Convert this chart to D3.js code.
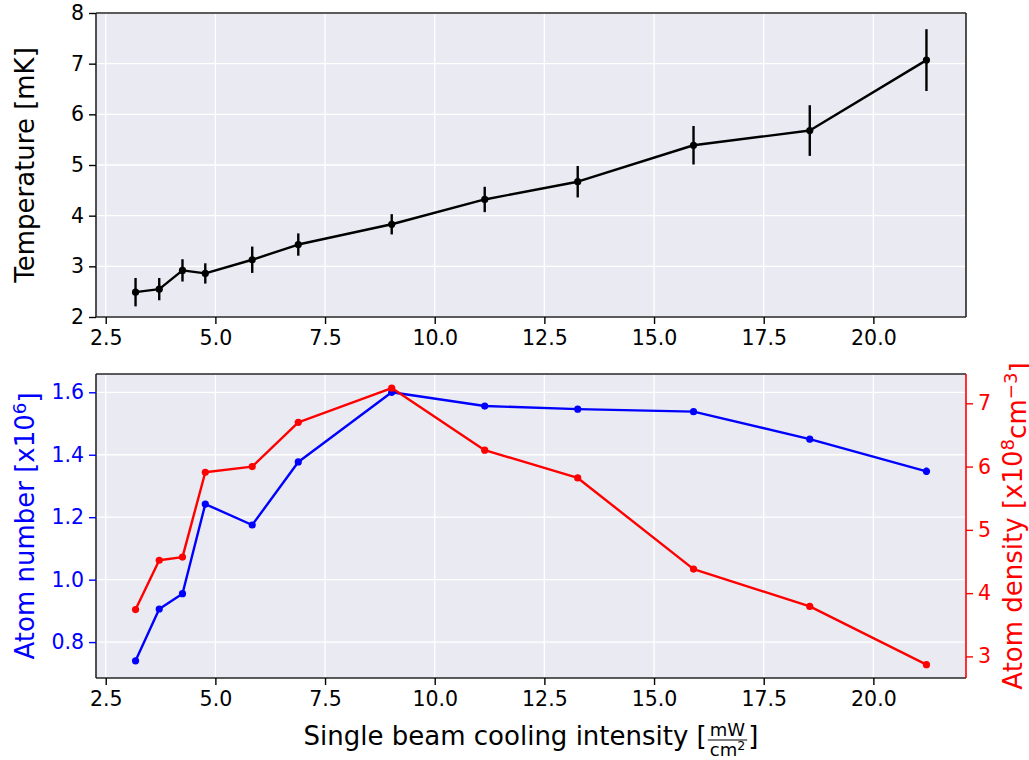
<!DOCTYPE html>
<html>
<head>
<meta charset="utf-8">
<script src="https://cdn.jsdelivr.net/npm/d3@7"></script>
<style>
  html, body { margin: 0; padding: 0; background: #ffffff; }
  svg { display: block; font-family: "DejaVu Sans", sans-serif; }
</style>
</head>
<body>
<svg id="chart" width="1029" height="760"></svg>
<script>
// ---------------- data ----------------
const intensity = [3.18, 3.72, 4.25, 4.77, 5.84, 6.89, 9.02, 11.14, 13.26, 15.90, 18.55, 21.21];
const temperature = [2.49, 2.55, 2.92, 2.86, 3.13, 3.43, 3.83, 4.32, 4.67, 5.39, 5.68, 7.07];
const temperatureErr = [0.28, 0.22, 0.22, 0.20, 0.26, 0.22, 0.20, 0.25, 0.31, 0.38, 0.50, 0.61];
const atomNumber = [0.740, 0.906, 0.955, 1.242, 1.175, 1.377, 1.600, 1.556, 1.546, 1.538, 1.450, 1.347];
const atomNumberErr = [0.008, 0.008, 0.008, 0.008, 0.008, 0.008, 0.010, 0.009, 0.009, 0.009, 0.010, 0.012];
const atomDensity = [3.74, 4.52, 4.57, 5.91, 6.00, 6.70, 7.24, 6.26, 5.82, 4.38, 3.79, 2.87];
const xTicks = [2.5, 5.0, 7.5, 10.0, 12.5, 15.0, 17.5, 20.0];
const tempTicks = [2, 3, 4, 5, 6, 7, 8];
const numberTicks = [0.8, 1.0, 1.2, 1.4, 1.6];
const densityTicks = [3, 4, 5, 6, 7];

// ---------------- layout ----------------
const L = 96, R = 966;
const top1 = 13, bot1 = 317;
const top2 = 374, bot2 = 678;
const BG = "#eaeaf2";
const FS_TICK = 20.5, FS_LABEL = 26;
const svg = d3.select("#chart");

const xr = d3.extent(intensity);
const xpad = (xr[1] - xr[0]) * 0.05;
const x = d3.scaleLinear().domain([xr[0] - xpad, xr[1] + xpad]).range([L, R]);
const yT = d3.scaleLinear().domain([2, 8]).range([bot1, top1]);
const yN = d3.scaleLinear().domain([0.685, 1.6586]).range([bot2, top2]);
const yD = d3.scaleLinear().domain([2.659, 7.463]).range([bot2, top2]);

function panelBg(t, b) {
  svg.append("rect").attr("x", L).attr("y", t).attr("width", R - L).attr("height", b - t).attr("fill", BG);
}
function vGrid(t, b) {
  svg.append("g").selectAll("line").data(xTicks).join("line")
    .attr("x1", d => x(d)).attr("x2", d => x(d)).attr("y1", t).attr("y2", b)
    .attr("stroke", "#ffffff").attr("stroke-width", 1.3);
}
function hGrid(scale, ticks) {
  svg.append("g").selectAll("line").data(ticks).join("line")
    .attr("x1", L).attr("x2", R).attr("y1", d => scale(d)).attr("y2", d => scale(d))
    .attr("stroke", "#ffffff").attr("stroke-width", 1.3);
}
function styleAxis(g, color) {
  g.select(".domain").remove();
  g.selectAll(".tick line").attr("stroke", color).attr("stroke-width", 1.4);
  g.selectAll(".tick text").attr("fill", color).attr("font-size", FS_TICK)
    .attr("font-family", "DejaVu Sans");
}
function xAxis(b) {
  const g = svg.append("g").attr("transform", `translate(0,${b})`)
    .call(d3.axisBottom(x).tickValues(xTicks).tickFormat(d3.format(".1f")).tickSize(7).tickPadding(6));
  styleAxis(g, "#000");
}
function frame(t, b, rightColor) {
  const c = "#262626";
  svg.append("line").attr("x1", L).attr("x2", R).attr("y1", t).attr("y2", t).attr("stroke", c).attr("stroke-width", 1.6);
  svg.append("line").attr("x1", L).attr("x2", R).attr("y1", b).attr("y2", b).attr("stroke", c).attr("stroke-width", 1.6);
  svg.append("line").attr("x1", L).attr("x2", L).attr("y1", t).attr("y2", b).attr("stroke", c).attr("stroke-width", 1.6);
  svg.append("line").attr("x1", R).attr("x2", R).attr("y1", t).attr("y2", b).attr("stroke", rightColor || c).attr("stroke-width", 1.6);
}

// ---------------- top panel ----------------
panelBg(top1, bot1);
vGrid(top1, bot1);
hGrid(yT, tempTicks);

const lineT = d3.line().x((d, i) => x(intensity[i])).y(d => yT(d));
svg.append("path").datum(temperature).attr("d", lineT)
  .attr("fill", "none").attr("stroke", "#000").attr("stroke-width", 2.4).attr("stroke-linejoin", "round");
svg.append("g").selectAll("line").data(temperature).join("line")
  .attr("x1", (d, i) => x(intensity[i])).attr("x2", (d, i) => x(intensity[i]))
  .attr("y1", (d, i) => yT(d - temperatureErr[i])).attr("y2", (d, i) => yT(d + temperatureErr[i]))
  .attr("stroke", "#000").attr("stroke-width", 2.4);
svg.append("g").selectAll("circle").data(temperature).join("circle")
  .attr("cx", (d, i) => x(intensity[i])).attr("cy", d => yT(d)).attr("r", 3.6).attr("fill", "#000");

frame(top1, bot1);
xAxis(bot1);
{
  const g = svg.append("g").attr("transform", `translate(${L},0)`)
    .call(d3.axisLeft(yT).tickValues(tempTicks).tickFormat(d3.format("d")).tickSize(7).tickPadding(5));
  styleAxis(g, "#000");
}
svg.append("text").attr("transform", `translate(34,${(top1 + bot1) / 2}) rotate(-90)`)
  .attr("text-anchor", "middle").attr("font-size", FS_LABEL).attr("fill", "#000")
  .text("Temperature [mK]");

// ---------------- bottom panel ----------------
panelBg(top2, bot2);
vGrid(top2, bot2);
hGrid(yN, numberTicks);

const lineN = d3.line().x((d, i) => x(intensity[i])).y(d => yN(d));
svg.append("path").datum(atomNumber).attr("d", lineN)
  .attr("fill", "none").attr("stroke", "#0000ff").attr("stroke-width", 2.4).attr("stroke-linejoin", "round");
svg.append("g").selectAll("line").data(atomNumber).join("line")
  .attr("x1", (d, i) => x(intensity[i])).attr("x2", (d, i) => x(intensity[i]))
  .attr("y1", (d, i) => yN(d - atomNumberErr[i])).attr("y2", (d, i) => yN(d + atomNumberErr[i]))
  .attr("stroke", "#0000ff").attr("stroke-width", 2.4);
svg.append("g").selectAll("circle").data(atomNumber).join("circle")
  .attr("cx", (d, i) => x(intensity[i])).attr("cy", d => yN(d)).attr("r", 3.6).attr("fill", "#0000ff");

const lineD = d3.line().x((d, i) => x(intensity[i])).y(d => yD(d));
svg.append("path").datum(atomDensity).attr("d", lineD)
  .attr("fill", "none").attr("stroke", "#ff0000").attr("stroke-width", 2.4).attr("stroke-linejoin", "round");
svg.append("g").selectAll("circle").data(atomDensity).join("circle")
  .attr("cx", (d, i) => x(intensity[i])).attr("cy", d => yD(d)).attr("r", 3.6).attr("fill", "#ff0000");

frame(top2, bot2, "#ff0000");
xAxis(bot2);
{
  const g = svg.append("g").attr("transform", `translate(${L},0)`)
    .call(d3.axisLeft(yN).tickValues(numberTicks).tickFormat(d3.format(".1f")).tickSize(7).tickPadding(5));
  styleAxis(g, "#0000ff");
  const g2 = svg.append("g").attr("transform", `translate(${R},0)`)
    .call(d3.axisRight(yD).tickValues(densityTicks).tickFormat(d3.format("d")).tickSize(7).tickPadding(5));
  styleAxis(g2, "#ff0000");
}

// left label with superscript
{
  const t = svg.append("text").attr("transform", `translate(34,${(top2 + bot2) / 2}) rotate(-90)`)
    .attr("text-anchor", "middle").attr("font-size", FS_LABEL).attr("fill", "#0000ff");
  t.append("tspan").text("Atom number [x10");
  t.append("tspan").attr("dy", "-0.45em").attr("font-size", FS_LABEL * 0.7).text("6");
  t.append("tspan").attr("dy", "0.45em").text("]");
}
// right label
{
  const t = svg.append("text").attr("transform", `translate(1022,${(top2 + bot2) / 2}) rotate(-90)`)
    .attr("text-anchor", "middle").attr("font-size", FS_LABEL).attr("fill", "#ff0000");
  t.append("tspan").text("Atom density [x10");
  t.append("tspan").attr("dy", "-0.45em").attr("font-size", FS_LABEL * 0.7).text("8");
  t.append("tspan").attr("dy", "0.45em").text("cm");
  t.append("tspan").attr("dy", "-0.45em").attr("font-size", FS_LABEL * 0.7).text("\u22123");
  t.append("tspan").attr("dy", "0.45em").text("]");
}

// x label with fraction
{
  const g = svg.append("g");
  const base = 745;
  const t1 = g.append("text").attr("y", base).attr("font-size", FS_LABEL).attr("fill", "#000")
    .text("Single beam cooling intensity [");
  const w1 = t1.node().getComputedTextLength();
  const fs = 18;
  const num = g.append("text").attr("font-size", fs).attr("text-anchor", "middle").attr("fill", "#000").text("mW");
  const den = g.append("text").attr("font-size", fs).attr("text-anchor", "middle").attr("fill", "#000");
  den.append("tspan").text("cm");
  den.append("tspan").attr("dy", "-0.4em").attr("font-size", fs * 0.7).text("2");
  const wn = num.node().getComputedTextLength();
  const wd = den.node().getComputedTextLength();
  const fw = Math.max(wn, wd) + 6;
  const t3 = g.append("text").attr("y", base).attr("font-size", FS_LABEL).attr("fill", "#000").text("]");
  const w3 = t3.node().getComputedTextLength();
  const total = w1 + fw + w3;
  const x0 = (L + R) / 2 - total / 2;
  t1.attr("x", x0);
  const fc = x0 + w1 + fw / 2;
  num.attr("x", fc).attr("y", 735.5);
  den.attr("x", fc).attr("y", 755.5);
  g.append("line").attr("x1", fc - fw / 2 + 1).attr("x2", fc + fw / 2 - 1)
    .attr("y1", 740).attr("y2", 740).attr("stroke", "#000").attr("stroke-width", 1.2);
  t3.attr("x", x0 + w1 + fw);
}
</script>
</body>
</html>
